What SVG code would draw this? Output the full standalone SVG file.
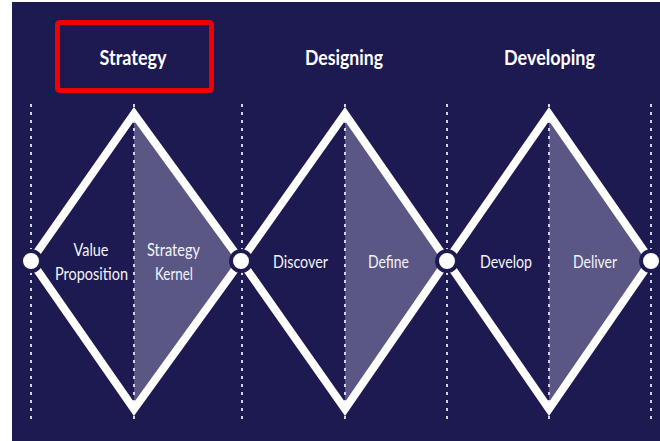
<svg xmlns="http://www.w3.org/2000/svg" width="660" height="441" viewBox="0 0 660 441">
  <defs>
    <style>
      .bg { fill: #1c1a50; }
      .shade { fill: #5a5785; }
      .dots { stroke: #d4d3ea; stroke-width: 2; stroke-dasharray: 3 5; fill: none; }
      .edge { stroke: #ffffff; stroke-width: 8; fill: none; stroke-linejoin: miter; stroke-miterlimit: 10; }
      .joint { fill: #ffffff; stroke: #1c1a50; stroke-width: 4; }
      .head { font-family: Lato, "Open Sans", "Liberation Sans", sans-serif; font-weight: bold; font-size: 21px; fill: #ffffff; text-anchor: middle; }
      .lbl { font-family: Lato, "Open Sans", "Liberation Sans", sans-serif; font-size: 18px; fill: #f4f4fa; text-anchor: middle; }
      .mark { fill: none; stroke: #f00000; stroke-width: 5; }
    </style>
  </defs>

  <rect x="0" y="0" width="660" height="441" fill="#ffffff"/>
  <rect class="bg" x="12" y="2" width="648" height="439"/>

  <!-- shaded right halves -->
  <g id="shading">
    <polygon class="shade" points="134,114 241,261 134,409"/>
    <polygon class="shade" points="345,114 447,261 345,409"/>
    <polygon class="shade" points="549,114 651,261 549,409"/>
  </g>

  <!-- dotted dividers -->
  <g id="dividers">
    <line class="dots" x1="31" y1="104" x2="31" y2="419"/>
    <line class="dots" x1="134" y1="104" x2="134" y2="419"/>
    <line class="dots" x1="242" y1="104" x2="242" y2="419"/>
    <line class="dots" x1="345" y1="104" x2="345" y2="419"/>
    <line class="dots" x1="447" y1="104" x2="447" y2="419"/>
    <line class="dots" x1="549" y1="104" x2="549" y2="419"/>
    <line class="dots" x1="651" y1="104" x2="651" y2="419"/>
  </g>

  <!-- connectors: diamond outlines -->
  <g id="connectors">
    <path class="edge" d="M31,261 L134,114 L241,261 L134,409 Z"/>
    <path class="edge" d="M241,261 L345,114 L447,261 L345,409 Z"/>
    <path class="edge" d="M447,261 L549,114 L651,261 L549,409 Z"/>
  </g>

  <g id="junctions">
    <circle class="joint" cx="31" cy="261" r="10"/>
    <circle class="joint" cx="241" cy="261" r="10"/>
    <circle class="joint" cx="447" cy="261" r="10"/>
    <circle class="joint" cx="651" cy="261" r="10"/>
  </g>

  <g id="stage-strategy">
    <rect class="mark" x="57.5" y="22.5" width="154" height="68" rx="2"/>
    <text class="head" x="133" y="65" textLength="67" lengthAdjust="spacingAndGlyphs">Strategy</text>
  </g>
  <g id="stage-designing">
    <text class="head" x="344" y="65" textLength="78" lengthAdjust="spacingAndGlyphs">Designing</text>
  </g>
  <g id="stage-developing">
    <text class="head" x="549.5" y="65" textLength="91" lengthAdjust="spacingAndGlyphs">Developing</text>
  </g>

  <g id="node-value-proposition">
    <text class="lbl" x="91" y="256" textLength="35" lengthAdjust="spacingAndGlyphs">Value</text>
    <text class="lbl" x="91.5" y="280" textLength="73" lengthAdjust="spacingAndGlyphs">Proposition</text>
  </g>
  <g id="node-strategy-kernel">
    <text class="lbl" x="173.5" y="256" textLength="53" lengthAdjust="spacingAndGlyphs">Strategy</text>
    <text class="lbl" x="174" y="280" textLength="38" lengthAdjust="spacingAndGlyphs">Kernel</text>
  </g>
  <g id="node-discover">
    <text class="lbl" x="300.5" y="268" textLength="55" lengthAdjust="spacingAndGlyphs">Discover</text>
  </g>
  <g id="node-define">
    <text class="lbl" x="388.5" y="268" textLength="41" lengthAdjust="spacingAndGlyphs">Define</text>
  </g>
  <g id="node-develop">
    <text class="lbl" x="506" y="268" textLength="52" lengthAdjust="spacingAndGlyphs">Develop</text>
  </g>
  <g id="node-deliver">
    <text class="lbl" x="595" y="268" textLength="44" lengthAdjust="spacingAndGlyphs">Deliver</text>
  </g>
</svg>
